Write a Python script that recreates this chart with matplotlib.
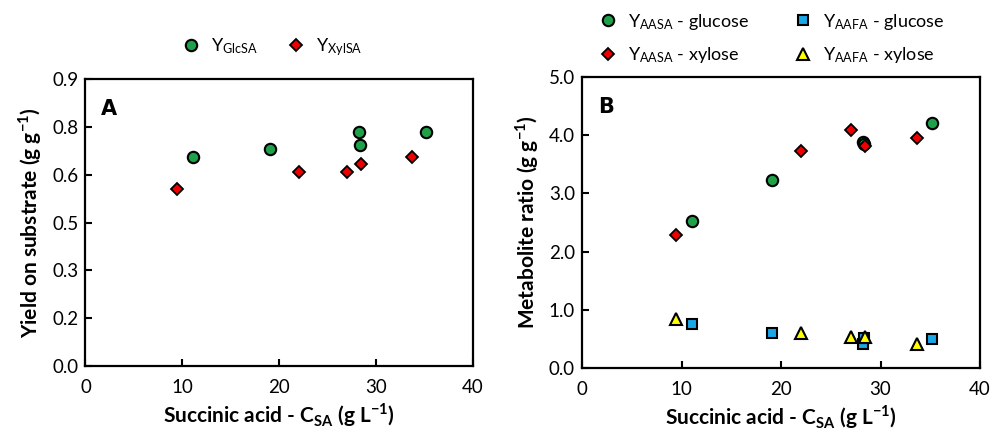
import matplotlib
matplotlib.use('Agg')
import matplotlib.pyplot as plt

plt.rcParams['font.family'] = ['Lato', 'DejaVu Sans']
plt.rcParams['mathtext.fontset'] = 'custom'
plt.rcParams['mathtext.rm'] = 'Lato'
plt.rcParams['mathtext.bf'] = 'Lato:bold'

# panel A - yield on substrate
glc_sa_x = [11.1, 19.1, 28.2, 28.3, 35.2]
glc_sa_y = [0.654, 0.679, 0.733, 0.693, 0.733]
xyl_sa_x = [9.4, 22.0, 27.0, 28.4, 33.7]
xyl_sa_y = [0.554, 0.607, 0.607, 0.633, 0.654]

yield_ticks = [0.0, 0.15, 0.3, 0.45, 0.6, 0.75, 0.9]
yield_labels = ['0.0', '0.2', '0.3', '0.5', '0.6', '0.8', '0.9']

# panel B - metabolite ratios
aasa_glc_y = [2.53, 3.23, 3.89, 3.85, 4.21]
aasa_xyl_y = [2.29, 3.73, 4.09, 3.82, 3.95]
aafa_glc_y = [0.76, 0.61, 0.41, 0.52, 0.49]
aafa_xyl_y = [0.85, 0.61, 0.53, 0.54, 0.41]

ratio_ticks = [0.0, 1.0, 2.0, 3.0, 4.0, 5.0]
x_ticks = [0, 10, 20, 30, 40]

green = '#1fa04a'
red = '#ee0000'
blue = '#1aa7e8'
yellow = '#ffff00'

fig = plt.figure(figsize=(10.03, 4.33), dpi=100)
ax1 = fig.add_axes([0.0852, 0.1547, 0.3863, 0.6628])
ax2 = fig.add_axes([0.5803, 0.1501, 0.3968, 0.672])

ax1.plot(glc_sa_x, glc_sa_y, 'o', ms=8.2, mfc=green, mec='black', mew=1.5,
         ls='none', label=r'$\mathregular{Y_{GlcSA}}$')
ax1.plot(xyl_sa_x, xyl_sa_y, 'D', ms=6.5, mfc=red, mec='black', mew=1.3,
         ls='none', label=r'$\mathregular{Y_{XylSA}}$')

ax2.plot(glc_sa_x, aasa_glc_y, 'o', ms=8.2, mfc=green, mec='black', mew=1.5,
         ls='none', label=r'$\mathregular{Y_{AASA}}$ - glucose')
ax2.plot(xyl_sa_x, aasa_xyl_y, 'D', ms=6.5, mfc=red, mec='black', mew=1.3,
         ls='none', label=r'$\mathregular{Y_{AASA}}$ - xylose')
ax2.plot(glc_sa_x, aafa_glc_y, 's', ms=7, mfc=blue, mec='black', mew=1.5,
         ls='none', label=r'$\mathregular{Y_{AAFA}}$ - glucose')
ax2.plot(xyl_sa_x, aafa_xyl_y, '^', ms=8.5, mfc=yellow, mec='black', mew=1.5,
         ls='none', label=r'$\mathregular{Y_{AAFA}}$ - xylose')

for ax in (ax1, ax2):
    ax.set_xlim(0, 40)
    ax.set_xticks(x_ticks)
    ax.tick_params(direction='in', length=5, width=1.5, labelsize=13.5,
                   colors='black')
    ax.tick_params(axis='x', pad=9)
    ax.tick_params(axis='y', pad=5)
    for s in ax.spines.values():
        s.set_linewidth(1.6)
    ax.set_xlabel(r'Succinic acid - C$_{\mathbf{SA}}$ (g L$^{\mathbf{-1}}$)',
                  fontsize=15, fontweight='bold', labelpad=4)

ax1.set_ylim(0, 0.9)
ax1.set_yticks(yield_ticks)
ax1.set_yticklabels(yield_labels)
ax1.set_ylabel(r'Yield on substrate (g g$^{\mathbf{-1}}$)', fontsize=15,
               fontweight='bold', labelpad=6)
ax1.text(0.04, 0.93, 'A', transform=ax1.transAxes, fontsize=15,
         fontweight='bold', va='top', family='DejaVu Sans')
ax1.legend(loc='center', bbox_to_anchor=(0.267, 0.892),
           bbox_transform=fig.transFigure, ncol=2, frameon=False,
           fontsize=13, handletextpad=0.1, columnspacing=1.1,
           borderaxespad=0, borderpad=0)

ax2.set_ylim(0, 5)
ax2.set_yticks(ratio_ticks)
ax2.set_yticklabels(['%.1f' % t for t in ratio_ticks])
ax2.set_ylabel(r'Metabolite ratio (g g$^{\mathbf{-1}}$)', fontsize=15,
               fontweight='bold', labelpad=6)
ax2.text(0.04, 0.93, 'B', transform=ax2.transAxes, fontsize=15,
         fontweight='bold', va='top', family='DejaVu Sans')
ax2.legend(loc='center', bbox_to_anchor=(0.765, 0.911),
           bbox_transform=fig.transFigure, ncol=2, frameon=False,
           fontsize=13, handletextpad=0.1, columnspacing=2.0,
           labelspacing=0.75, borderaxespad=0, borderpad=0)

fig.savefig('out.png', dpi=100)
